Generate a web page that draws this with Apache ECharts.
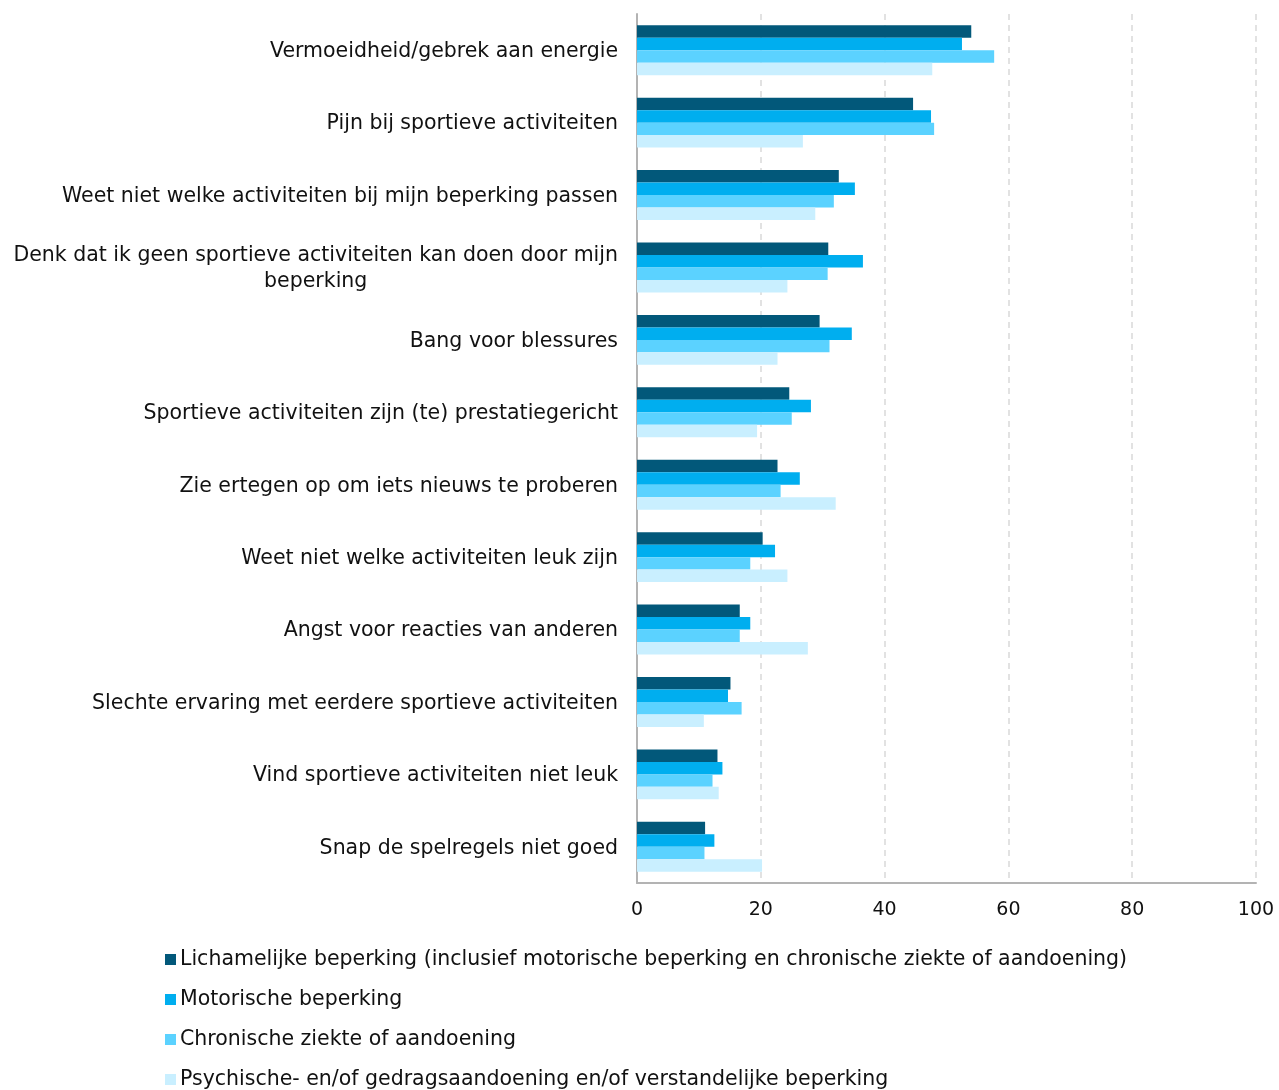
<!DOCTYPE html>
<html><head><meta charset="utf-8">
<script src="https://cdn.jsdelivr.net/npm/echarts@6/dist/echarts.min.js"></script>
<style>html,body{margin:0;padding:0;background:#fff}#c{width:1279px;height:1090px}</style>
</head><body><div id="c"></div>
<script>
const categories = [
  'Vermoeidheid/gebrek aan energie',
  'Pijn bij sportieve activiteiten',
  'Weet niet welke activiteiten bij mijn beperking passen',
  'Denk dat ik geen sportieve activiteiten kan doen door mijn\nbeperking',
  'Bang voor blessures',
  'Sportieve activiteiten zijn (te) prestatiegericht',
  'Zie ertegen op om iets nieuws te proberen',
  'Weet niet welke activiteiten leuk zijn',
  'Angst voor reacties van anderen',
  'Slechte ervaring met eerdere sportieve activiteiten',
  'Vind sportieve activiteiten niet leuk',
  'Snap de spelregels niet goed'
];
const seriesNames = [
  'Lichamelijke beperking (inclusief motorische beperking en chronische ziekte of aandoening)',
  'Motorische beperking',
  'Chronische ziekte of aandoening',
  'Psychische- en/of gedragsaandoening en/of verstandelijke beperking'
];
const lichamelijk = [54.0, 44.6, 32.6, 30.9, 29.5, 24.6, 22.7, 20.3, 16.6, 15.1, 13.0, 11.0];
const motorisch   = [52.5, 47.5, 35.2, 36.5, 34.7, 28.1, 26.3, 22.3, 18.3, 14.7, 13.8, 12.5];
const chronisch   = [57.7, 48.0, 31.8, 30.8, 31.1, 25.0, 23.2, 18.3, 16.6, 16.9, 12.2, 10.9];
const psychisch   = [47.7, 26.8, 28.8, 24.3, 22.7, 19.4, 32.1, 24.3, 27.6, 10.8, 13.2, 20.2];
const xTicks = [0, 20, 40, 60, 80, 100];

const colors = ['#02587A', '#00AEEF', '#5BD2FF', '#C9EFFF'];
const FONT = 'DejaVu Sans';
const FS = 20.5;
const values = [lichamelijk, motorisch, chronisch, psychisch];

const chart = echarts.init(document.getElementById('c'));
chart.setOption({
  animation: false,
  color: colors,
  textStyle: { fontFamily: FONT },
  grid: { left: 637, right: 23, top: 14, bottom: 207, containLabel: false },
  xAxis: {
    type: 'value', min: xTicks[0], max: xTicks[xTicks.length - 1], interval: 20,
    axisLine: { show: true, lineStyle: { color: '#b3b3b3', width: 2 } },
    axisTick: { show: false },
    axisLabel: { fontFamily: FONT, fontSize: 19, color: '#111', margin: 18 },
    splitLine: { show: true, lineStyle: { color: '#d9d9d9', type: [6, 5], width: 1.5 } }
  },
  yAxis: {
    type: 'category', data: categories, inverse: true,
    axisLine: { show: true, lineStyle: { color: '#b3b3b3', width: 2 } },
    axisTick: { show: false },
    axisLabel: {
      fontFamily: FONT, fontSize: FS, color: '#111', margin: 19, lineHeight: 26,
      formatter: v => v.split('\n').map(l => '{c|' + l + '}').join('\n'),
      rich: { c: { align: 'center', fontFamily: FONT, fontSize: FS, color: '#111', lineHeight: 26, padding: [3, 0, 0, 0] } }
    }
  },
  legend: seriesNames.map((n, i) => ({
    orient: 'vertical', left: 165, top: 949 + i * 40, padding: 0,
    itemWidth: 11, itemHeight: 11, icon: 'rect',
    textStyle: { fontFamily: FONT, fontSize: FS, color: '#111', padding: [2, 0, 0, -1] },
    data: [n]
  })),
  series: seriesNames.map((n, i) => ({
    name: n, type: 'bar', data: values[i],
    barGap: '0%', barCategoryGap: '31%'
  }))
});
</script></body></html>
